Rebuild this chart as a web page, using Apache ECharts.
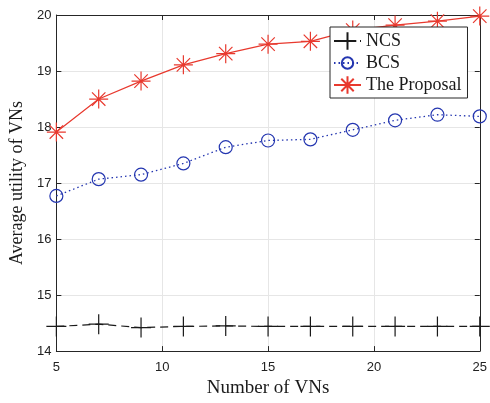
<!DOCTYPE html>
<html>
<head>
<meta charset="utf-8">
<script src="https://cdn.jsdelivr.net/npm/echarts@6/dist/echarts.min.js"></script>
<style>html,body{margin:0;padding:0;background:#fff}#c{width:490px;height:403px}</style>
</head>
<body>
<div id="c"></div>
<script>
var xValues = [5, 7, 9, 11, 13, 15, 17, 19, 21, 23, 25];
var ncs = [14.44, 14.48, 14.42, 14.44, 14.45, 14.44, 14.44, 14.44, 14.44, 14.44, 14.44];
var bcs = [16.77, 17.07, 17.15, 17.35, 17.64, 17.76, 17.78, 17.95, 18.12, 18.22, 18.19];
var proposal = [17.91, 18.50, 18.82, 19.11, 19.31, 19.48, 19.53, 19.73, 19.82, 19.89, 19.98];
var seriesNames = ['NCS', 'BCS', 'The Proposal'];

function pairs(vals) { return xValues.map(function (x, i) { return [x, vals[i]]; }); }

var serif = '"Liberation Serif", "Times New Roman", serif';
var sans = '"Liberation Sans", Arial, sans-serif';
var axisColor = '#262626';
var plusPath = 'path://M0,-10L0,10M-10,0L10,0';
var starPath = 'path://M0,-10L0,10M-10,0L10,0M-7.07,-7.07L7.07,7.07M-7.07,7.07L7.07,-7.07';
var circlePath = 'path://M-10,-10M10,10M-6.5,0A6.5,6.5,0,1,1,6.5,0A6.5,6.5,0,1,1,-6.5,0Z';

var chart = echarts.init(document.getElementById('c'), null, {renderer: 'canvas'});
chart.setOption({
  animation: false,
  backgroundColor: '#fff',
  grid: {left: 51, right: 5, top: 15, bottom: 46, containLabel: false},
  legend: {
    orient: 'vertical', left: 330, top: 27,
    padding: [3, 6, 2, 3],
    itemWidth: 27, itemHeight: 22, itemGap: 0,
    backgroundColor: '#fff', borderColor: axisColor, borderWidth: 1,
    textStyle: {fontFamily: serif, fontSize: 18, color: '#1a1a1a', lineHeight: 22},
    data: seriesNames
  },
  xAxis: [{
    type: 'value', min: 5, max: 25, interval: 5,
    name: 'Number of VNs', nameLocation: 'middle', nameGap: 25,
    nameTextStyle: {fontFamily: serif, fontSize: 19, color: '#1a1a1a'},
    axisLine: {lineStyle: {color: axisColor, width: 1}},
    axisTick: {inside: true, length: 5, lineStyle: {color: axisColor}},
    axisLabel: {fontFamily: sans, fontSize: 13, color: '#222', margin: 10},
    splitLine: {show: true, lineStyle: {color: '#e6e6e6', width: 1}}
  }, {
    type: 'value', min: 5, max: 25, interval: 5, position: 'top',
    axisLine: {show: true, lineStyle: {color: axisColor, width: 1}},
    axisTick: {show: true, inside: true, length: 5, lineStyle: {color: axisColor}},
    axisLabel: {show: false}, splitLine: {show: false}
  }],
  yAxis: [{
    type: 'value', min: 14, max: 20, interval: 1,
    name: 'Average utility of VNs', nameLocation: 'middle', nameGap: 25,
    nameTextStyle: {fontFamily: serif, fontSize: 18, color: '#1a1a1a'},
    axisLine: {show: true, lineStyle: {color: axisColor, width: 1}},
    axisTick: {show: true, inside: true, length: 5, lineStyle: {color: axisColor}},
    axisLabel: {fontFamily: sans, fontSize: 13, color: '#222', margin: 5},
    splitLine: {show: true, lineStyle: {color: '#e6e6e6', width: 1}}
  }, {
    type: 'value', min: 14, max: 20, interval: 1, position: 'right',
    axisLine: {show: true, lineStyle: {color: axisColor, width: 1}},
    axisTick: {show: true, inside: true, length: 5, lineStyle: {color: axisColor}},
    axisLabel: {show: false}, splitLine: {show: false}
  }],
  series: [{
    name: seriesNames[0], type: 'line', data: pairs(ncs),
    xAxisIndex: 0, yAxisIndex: 0,
    symbol: plusPath, symbolSize: 20, showAllSymbol: true,
    lineStyle: {color: '#1a1a1a', width: 1.2, type: [8, 5]},
    itemStyle: {color: 'rgba(0,0,0,0)', borderColor: '#1a1a1a', borderWidth: 1.2}
  }, {
    name: seriesNames[1], type: 'line', data: pairs(bcs),
    xAxisIndex: 0, yAxisIndex: 0,
    symbol: circlePath, symbolSize: 20, showAllSymbol: true,
    lineStyle: {color: '#2436b0', width: 1.3, type: [1.5, 3]},
    itemStyle: {color: 'rgba(0,0,0,0)', borderColor: '#2436b0', borderWidth: 1.2}
  }, {
    name: seriesNames[2], type: 'line', data: pairs(proposal),
    xAxisIndex: 0, yAxisIndex: 0,
    symbol: starPath, symbolSize: 19, showAllSymbol: true,
    lineStyle: {color: '#e8392e', width: 1.2, type: 'solid'},
    itemStyle: {color: 'rgba(0,0,0,0)', borderColor: '#e8392e', borderWidth: 1.2}
  }]
});
</script>
</body>
</html>
